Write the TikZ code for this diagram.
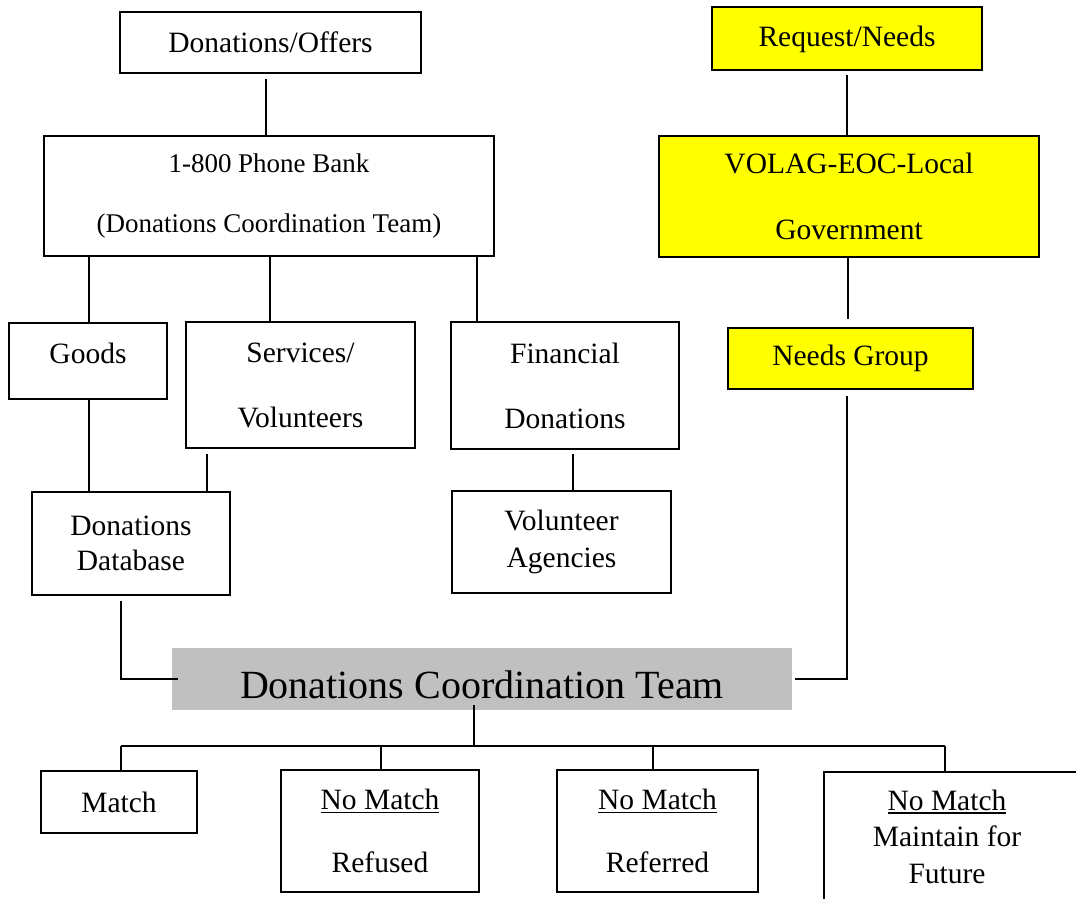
\documentclass[tikz,border=0pt]{standalone}
\usepackage{fontspec}
\setmainfont{Liberation Serif}
\usetikzlibrary{calc}
\definecolor{dctgray}{HTML}{C0C0C0}
\definecolor{yel}{HTML}{FFFF00}
\newcommand{\myul}[1]{\leavevmode\vtop{\hbox{#1}\kern2pt\hrule height 1.5pt}}
\begin{document}
\begin{tikzpicture}[x=1pt,y=-1pt,
  box/.style={draw, line width=2.5pt, inner sep=0pt, align=center},
  ybox/.style={box, fill=yel},
  conn/.style={line width=2pt},
  txt/.style={font=\fontsize{29.5pt}{#1}\selectfont},
  txt/.default=36pt]
\useasboundingbox (0,0) rectangle (1076,899);
% ---- left column
\node[box, txt, minimum width=301pt, minimum height=61pt] (offers) at (270.5,42.5) {Donations/Offers};
\node[box, font=\fontsize{27pt}{60pt}\selectfont, minimum width=450pt, minimum height=120pt] (phone) at (269,196) {1-800 Phone Bank\\(Donations Coordination Team)};
\node[box, txt, minimum width=158pt, minimum height=76pt, text height=20pt, text depth=16pt] (goods) at (88,361) {Goods};
\node[box, txt=65pt, minimum width=229pt, minimum height=126pt] (services) at (300.5,385) {Services/\\Volunteers};
\node[box, txt=65pt, minimum width=228pt, minimum height=127pt] (financial) at (565,385.5) {Financial\\Donations};
\node[box, txt=35pt, minimum width=198pt, minimum height=103pt] (database) at (131,543.5) {Donations\\Database};
\node[box, txt=37pt, minimum width=219pt, minimum height=102pt] (agencies) at (561.5,542) {Volunteer\\Agencies};
% ---- right column
\node[ybox, txt, minimum width=270pt, minimum height=63pt, text height=21pt, text depth=4pt] (request) at (847,38.5) {Request/Needs};
\node[ybox, txt=66pt, minimum width=380pt, minimum height=121pt] (volag) at (849,196.5) {VOLAG-EOC-Local\\Government};
\node[ybox, txt, minimum width=245pt, minimum height=61pt] (needs) at (850.5,358.5) {Needs Group};
% ---- centre
\node[fill=dctgray, inner sep=0pt, font=\fontsize{40pt}{48pt}\selectfont, minimum width=620pt, minimum height=62pt, text height=38pt, text depth=0pt] (dct) at (482,679) {Donations Coordination Team};
% ---- bottom row
\node[box, txt, minimum width=156pt, minimum height=62pt] (match) at (119,802) {Match};
\node[box, txt=63pt, minimum width=198pt, minimum height=122pt] (refused) at (380,831) {\myul{No Match}\\Refused};
\node[box, txt=63pt, minimum width=201pt, minimum height=122pt] (referred) at (657.5,831) {\myul{No Match}\\Referred};
\node[txt=36.5pt, inner sep=0pt, align=center] (future) at (947,836.5) {\myul{No Match}\\Maintain for\\Future};
\coordinate (futTL) at (824,772);
\coordinate (futBL) at (824,930);
\coordinate (futTR) at (1100,772);
\begin{scope}
\clip (0,0) rectangle (1076,899);
\draw[line width=2.5pt] (futBL) -- (futTL) -- (futTR);
\end{scope}
% ---- connector x positions
\path (266,0) coordinate (a1) (89,0) coordinate (a2) (270,0) coordinate (a3)
      (477,0) coordinate (a4) (207,0) coordinate (a5) (573,0) coordinate (a6)
      (121,0) coordinate (a7) (847,0) coordinate (a8) (848,0) coordinate (a9)
      (474,0) coordinate (a10) (381,0) coordinate (a11) (653,0) coordinate (a12);
\coordinate (busL) at (121,746);
\coordinate (busR) at (945,746);
% ---- connectors
\draw[conn, shorten <=5pt] (a1 |- offers.south) -- (a1 |- phone.north);
\draw[conn] (a2 |- phone.south) -- (a2 |- goods.north);
\draw[conn] (a3 |- phone.south) -- (a3 |- services.north);
\draw[conn] (a4 |- phone.south) -- (a4 |- financial.north);
\draw[conn] (a2 |- goods.south) -- (a2 |- database.north);
\draw[conn, shorten <=5pt] (a5 |- services.south) -- (a5 |- database.north);
\draw[conn, shorten <=4pt] (a6 |- financial.south) -- (a6 |- agencies.north);
\draw[conn, shorten <=5pt] (a7 |- database.south) -- (a7 |- dct.west) -- ($(dct.west)+(6,0)$);
\draw[conn, shorten <=4pt] (a8 |- request.south) -- (a8 |- volag.north);
\draw[conn, shorten >=8pt] (a9 |- volag.south) -- (a9 |- needs.north);
\draw[conn, shorten <=6pt] (a8 |- needs.south) -- (a8 |- dct.east) -- ($(dct.east)+(3,0)$);
\draw[conn, shorten <=-5pt] (a10 |- dct.south) -- (a10 |- busL);
\draw[conn] (busL) -- (busR);
\draw[conn] (busL) -- (busL |- match.north);
\draw[conn] (a11 |- busL) -- (a11 |- refused.north);
\draw[conn] (a12 |- busL) -- (a12 |- referred.north);
\draw[conn] (busR) -- (busR |- futTL);
\end{tikzpicture}
\end{document}
